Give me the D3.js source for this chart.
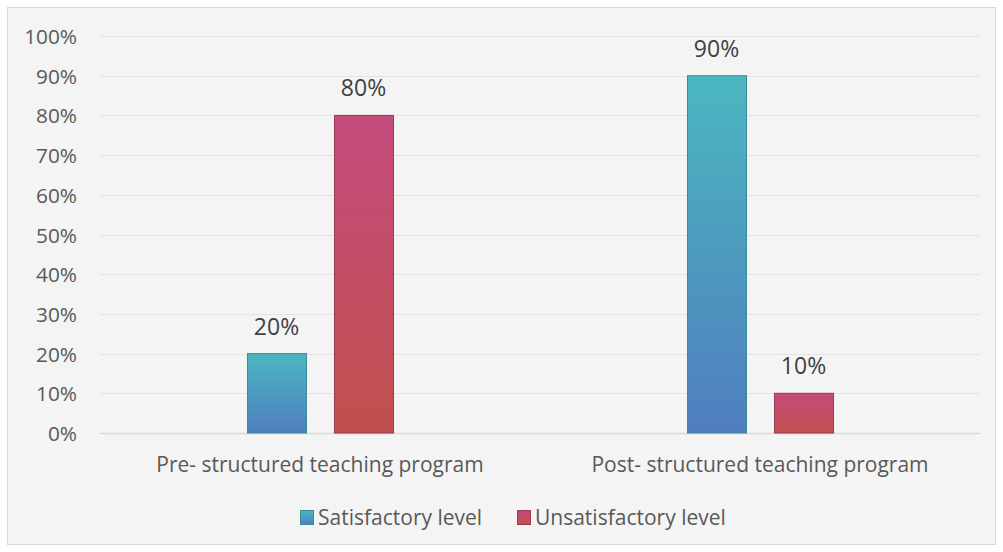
<!DOCTYPE html>
<html>
<head>
<meta charset="utf-8">
<script src="https://cdn.jsdelivr.net/npm/d3@7/dist/d3.min.js"></script>
<style>
  html, body { margin: 0; padding: 0; background: #ffffff; }
  svg { display: block; font-family: "Open Sans", Lato, sans-serif; }
</style>
</head>
<body>
<svg id="chart" width="1003" height="552"></svg>
<script>
// Chart data
const categories = ["Pre- structured teaching program", "Post- structured teaching program"];
const seriesNames = ["Satisfactory level", "Unsatisfactory level"];
const satisfactory = [20, 90];
const unsatisfactory = [80, 10];
const yTicks = [0, 10, 20, 30, 40, 50, 60, 70, 80, 90, 100];

const svg = d3.select("#chart");
const W = 1003, H = 552;
const margin = { left: 100, right: 23, top: 36, bottom: 119 };
const FONT = "'Open Sans', Lato, sans-serif";

// Outer frame
svg.append("rect")
  .attr("x", 7.5).attr("y", 7.5)
  .attr("width", W - 15).attr("height", H - 15)
  .attr("fill", "#f4f4f4")
  .attr("stroke", "#d9d9d9").attr("stroke-width", 1);

// Gradients
const defs = svg.append("defs");
function grad(id, top, bottom) {
  const g = defs.append("linearGradient").attr("id", id)
    .attr("x1", 0).attr("y1", 0).attr("x2", 0).attr("y2", 1);
  g.append("stop").attr("offset", "0%").attr("stop-color", top);
  g.append("stop").attr("offset", "100%").attr("stop-color", bottom);
}
grad("gSat", "#4bb7c0", "#4f7ebf");
grad("gUns", "#c44b7d", "#c0504d");

const fills = ["url(#gSat)", "url(#gUns)"];
const strokes = ["#3a8a98", "#9e3a4c"];

const x0 = d3.scaleBand().domain(categories)
  .range([margin.left, W - margin.right]).paddingInner(0).paddingOuter(0);
const y = d3.scaleLinear().domain([0, 100]).range([H - margin.bottom, margin.top]);

// Grid lines
svg.append("g").selectAll("line").data(yTicks).join("line")
  .attr("x1", margin.left).attr("x2", W - margin.right)
  .attr("y1", d => Math.round(y(d)) + 0.5).attr("y2", d => Math.round(y(d)) + 0.5)
  .attr("stroke", d => d === 0 ? "#d9d9d9" : "#e3e3e3")
  .attr("stroke-width", d => d === 0 ? 1.5 : 1.2);

// Y axis labels
const yAxis = d3.axisLeft(y).tickValues(yTicks).tickFormat(d => d + "%").tickSize(0).tickPadding(0);
const ya = svg.append("g").attr("transform", `translate(${margin.left - 23},0)`).call(yAxis);
ya.select(".domain").remove();
ya.selectAll("text").attr("font-size", 20.8).attr("fill", "#595959")
  .attr("font-family", FONT).attr("dy", "0.36em");

// Bars
const barW = 59, gap = 28;
const rows = categories.map((c, i) => ({ c, vals: [satisfactory[i], unsatisfactory[i]] }));
const groups = svg.append("g").selectAll("g").data(rows).join("g");
groups.each(function(r) {
  const cx = x0(r.c) + x0.bandwidth() / 2;
  const g = d3.select(this);
  r.vals.forEach((v, s) => {
    const bx = cx + (s === 0 ? -(gap / 2 + barW) : gap / 2);
    g.append("rect")
      .attr("x", bx + 0.5).attr("y", y(v))
      .attr("width", barW).attr("height", y(0) - y(v))
      .attr("fill", fills[s]).attr("stroke", strokes[s]).attr("stroke-width", 1);
    g.append("text")
      .attr("x", bx + barW / 2).attr("y", y(v) - 19)
      .attr("text-anchor", "middle").attr("font-size", 23).attr("fill", "#404040")
      .text(v + "%");
  });
});

// Category labels
svg.append("g").selectAll("text").data(categories).join("text")
  .attr("x", d => x0(d) + x0.bandwidth() / 2).attr("y", 472)
  .attr("text-anchor", "middle").attr("font-size", 21).attr("fill", "#595959")
  .text(d => d);

// Legend
const legendItems = [
  { name: seriesNames[0], x: 300 },
  { name: seriesNames[1], x: 517 }
];
const lg = svg.append("g").selectAll("g").data(legendItems).join("g")
  .attr("transform", d => `translate(${d.x},510)`);
lg.append("rect").attr("x", 0.5).attr("y", 0.5).attr("width", 13).attr("height", 14)
  .attr("fill", (d, i) => fills[i]).attr("stroke", (d, i) => strokes[i]);
lg.append("text").attr("x", 18).attr("y", 15)
  .attr("font-size", 21).attr("fill", "#595959").text(d => d.name);
</script>
</body>
</html>
